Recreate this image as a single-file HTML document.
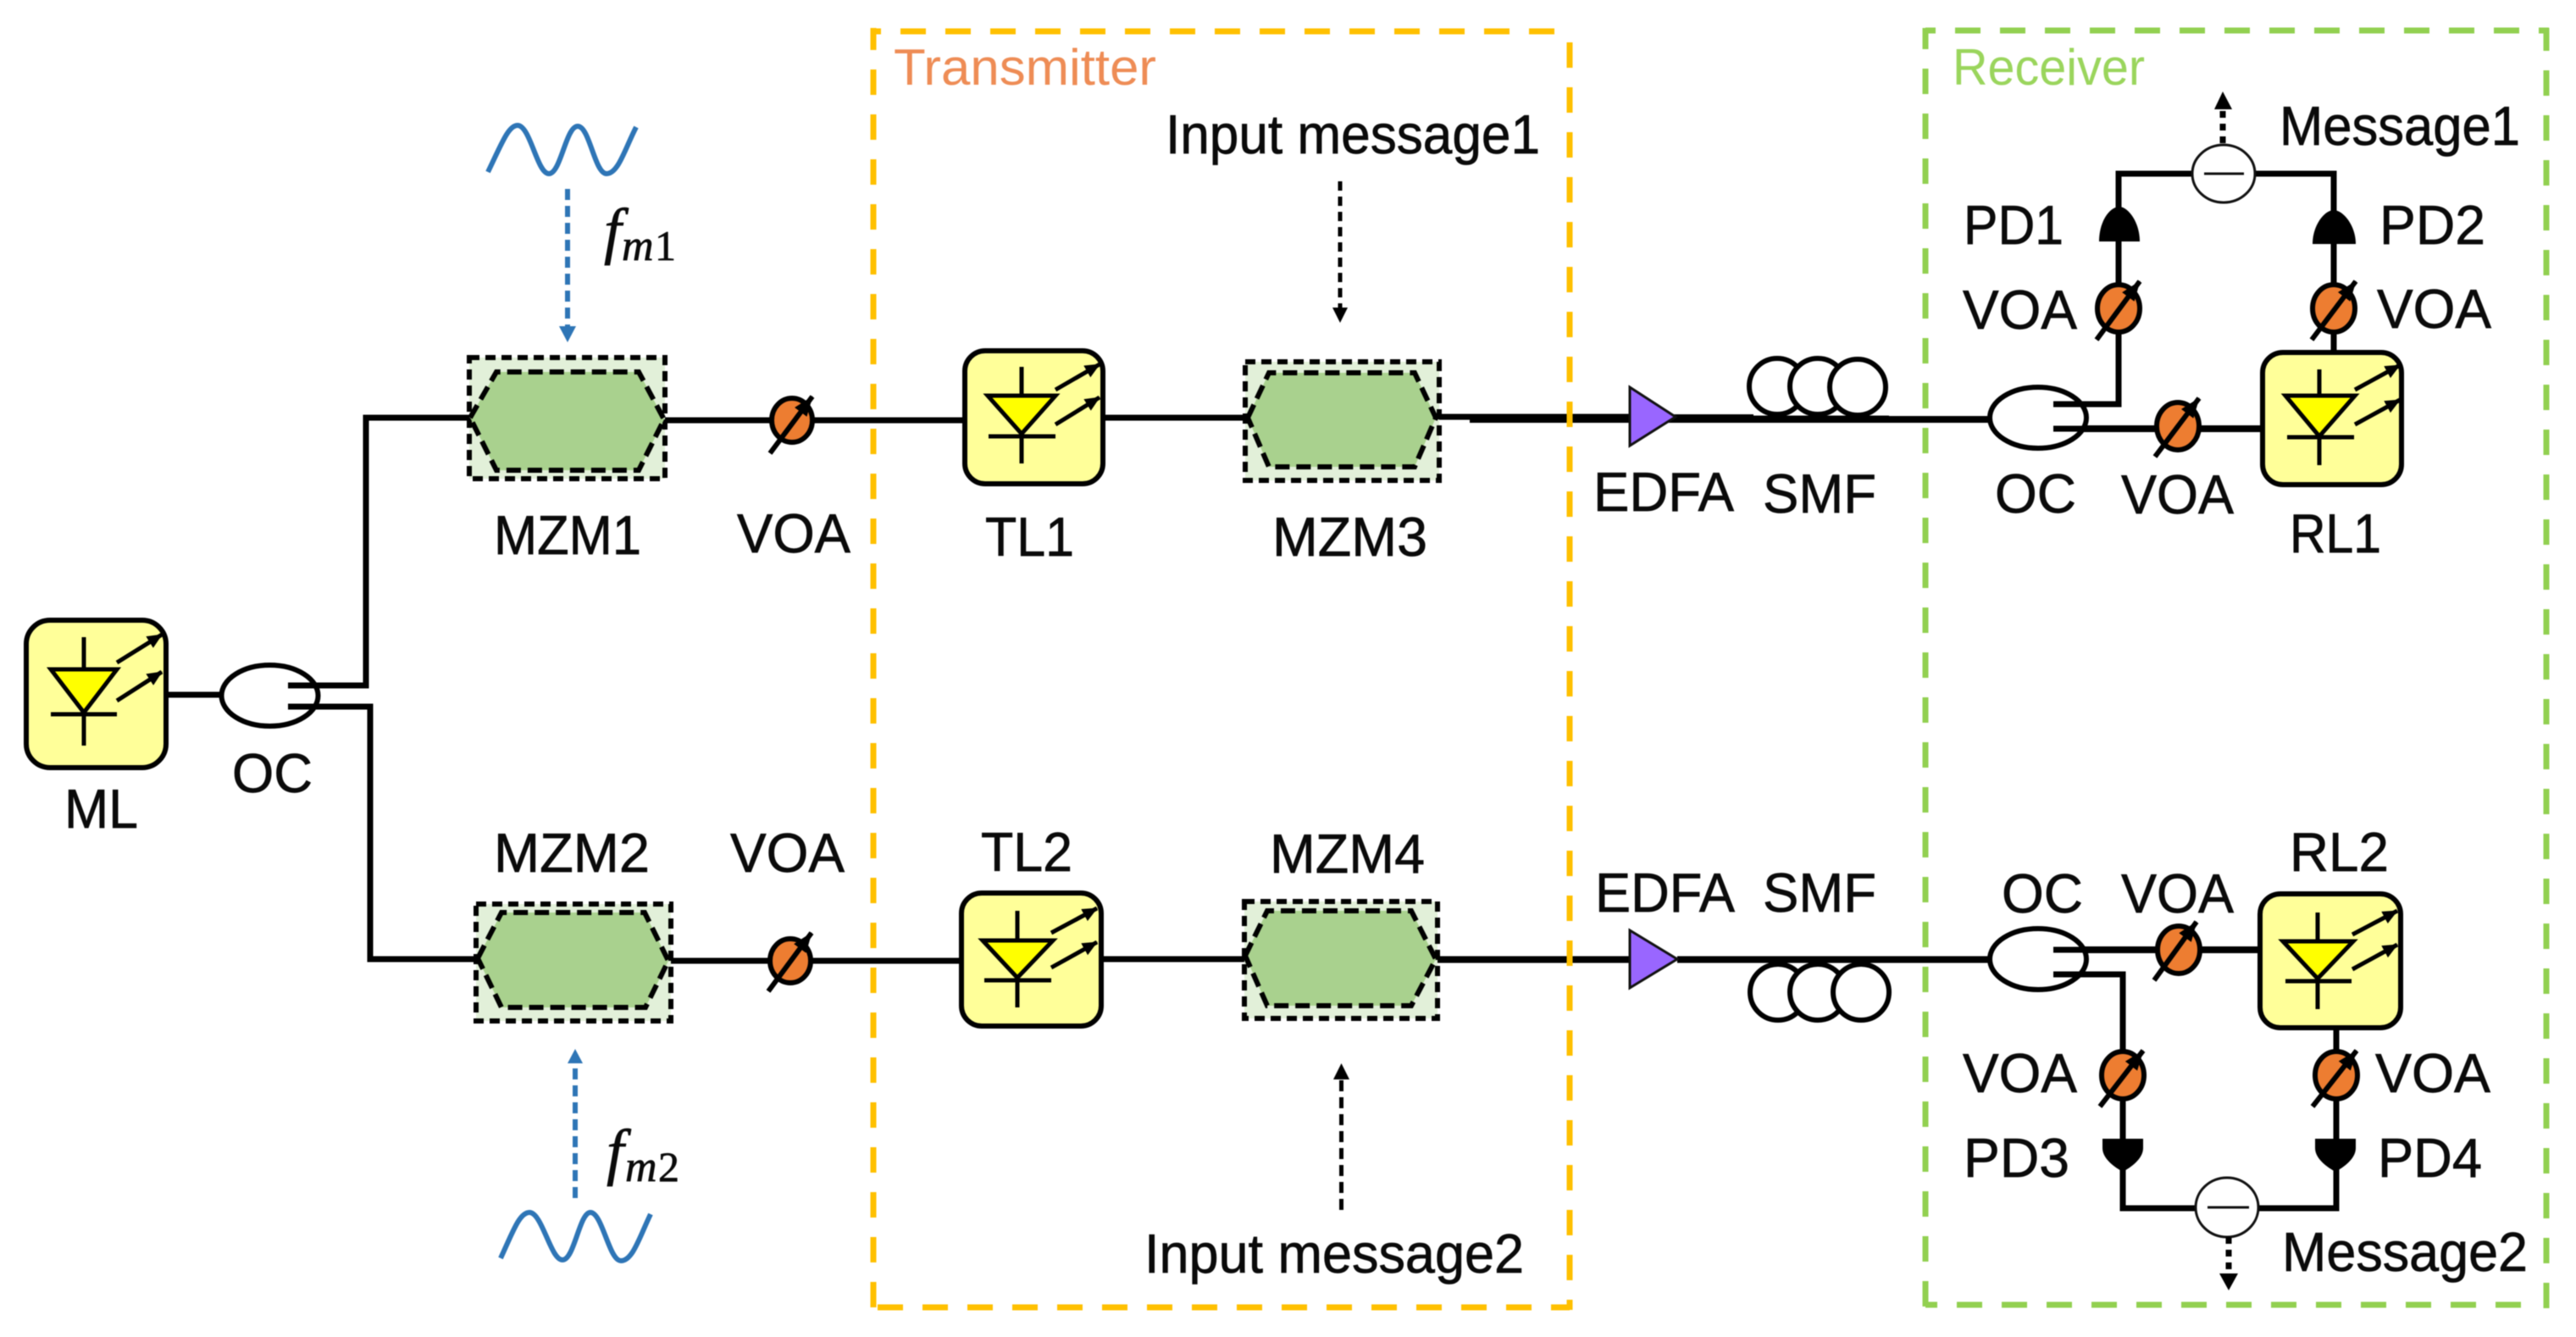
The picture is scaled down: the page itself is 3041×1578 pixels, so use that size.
<!DOCTYPE html>
<html><head><meta charset="utf-8"><style>
html,body{margin:0;padding:0;background:#fff}
svg{display:block;filter:blur(.6px)}
text{font-family:"Liberation Sans",sans-serif;font-size:65px;fill:#0a0a0a;stroke:#0a0a0a;stroke-width:.7px}
.l{fill:none;stroke:#000;stroke-width:7}
.box{fill:#ffff99;stroke:#000;stroke-width:6}
.tri{fill:#ffff00;stroke:#000;stroke-width:5}
.d{fill:none;stroke:#000;stroke-width:5}
.ar{fill:none;stroke:#000;stroke-width:5;marker-end:url(#a)}
.voa{fill:#ed7d31;stroke:#000;stroke-width:6}
.sl{fill:none;stroke:#000;stroke-width:6;marker-end:url(#b)}
.o{fill:#e2f0d9;stroke:#000;stroke-width:6;stroke-dasharray:12 7}
.h{fill:#a9d18e;stroke:#000;stroke-width:6;stroke-dasharray:17 8}
.w{fill:none;stroke:#2e75b6;stroke-width:6}
.y{fill:none;stroke:#ffc000;stroke-width:7;stroke-dasharray:30 23}
.g{fill:none;stroke:#92d050;stroke-width:7;stroke-dasharray:30 23}
.c{fill:#fff;stroke:#000;stroke-width:6}
.oc{fill:#fff;stroke:#000;stroke-width:6}
.ed{fill:#9966ff;stroke:#111;stroke-width:3}
.m{font-family:"Liberation Serif",serif;font-style:italic}
</style></head><body>
<svg width="3041" height="1578" viewBox="0 0 3041 1578" xmlns="http://www.w3.org/2000/svg">
<defs>
<marker id="a" markerUnits="userSpaceOnUse" viewBox="0 0 18 16" refX="17" refY="8" markerWidth="18" markerHeight="16" orient="auto"><path d="M0 0L18 8L0 16z"/></marker>
<marker id="b" markerUnits="userSpaceOnUse" viewBox="0 0 24 18" refX="23" refY="9" markerWidth="24" markerHeight="18" orient="auto"><path d="M0 0L24 9L0 18z"/></marker>
</defs>
<rect width="3041" height="1578" fill="#fff"/>

<!-- main lines -->
<path class="l" d="M196 820H261"/>
<path class="l" d="M340 809H432V493H554"/>
<path class="l" d="M340 834H437V1132H562"/>
<path class="l" d="M785 496H1139"/>
<path class="l" d="M1302 493H1470"/>
<path class="l" d="M1699 492H1923"/>
<path class="l" style="stroke-width:10" d="M1735 494H2070"/>
<path class="l" style="stroke-width:8" d="M2070 495H2348"/>
<path class="l" d="M792 1134H1135"/>
<path class="l" d="M1300 1132H1469"/>
<path class="l" style="stroke-width:8" d="M1697 1132.500H1924M1980 1132.500H2348"/>
<path class="l" d="M2424 477H2501V205H2755V416"/>
<path class="l" style="stroke-width:8" d="M2424 506H2671"/>
<path class="l" style="stroke-width:8" d="M2424 1121H2668"/>
<path class="l" d="M2424 1150H2506V1426H2758V1213"/>

<!-- ML -->
<rect class="box" x="31" y="732" width="165" height="174" rx="28"/>
<path class="d" d="M99 752V880M60 843H138"/>
<polygon class="tri" points="60,790 138,790 99,841"/>
<path class="ar" d="M138 782L191 749"/><path class="ar" d="M138 827L191 793"/>
<ellipse class="oc" cx="318.500" cy="821" rx="57" ry="36"/>
<path class="l" d="M340 809H380M340 834H380"/>

<!-- TL1 -->
<rect class="box" x="1139" y="414" width="163" height="157" rx="24"/>
<path class="d" d="M1206 433V547M1167 515H1246"/>
<polygon class="tri" points="1166,467 1246,467 1206,512"/>
<path class="ar" d="M1246 460L1298 430"/><path class="ar" d="M1246 501L1298 469"/>

<!-- TL2 -->
<rect class="box" x="1135" y="1054" width="165" height="157" rx="24"/>
<path class="d" d="M1201 1075V1189M1162 1157H1241"/>
<polygon class="tri" points="1160,1110 1243,1110 1201,1154"/>
<path class="ar" d="M1241 1101L1295 1072"/><path class="ar" d="M1241 1142L1295 1112"/>

<!-- RL1 -->
<rect class="box" x="2671" y="416" width="164" height="156" rx="24"/>
<path class="d" d="M2738 436V549M2700 516H2779"/>
<polygon class="tri" points="2698,467 2780,467 2738,515"/>
<path class="ar" d="M2780 460L2833 431"/><path class="ar" d="M2780 501L2833 472"/>

<!-- RL2 -->
<rect class="box" x="2668" y="1055" width="166" height="158" rx="24"/>
<path class="d" d="M2736 1077V1191M2698 1158H2776"/>
<polygon class="tri" points="2695,1111 2778,1111 2736,1155"/>
<path class="ar" d="M2777 1103L2830 1075"/><path class="ar" d="M2777 1144L2830 1115"/>

<!-- MZMs -->
<rect class="o" x="554" y="422" width="231" height="143"/>
<polygon class="h" points="555,493 586,439 754,439 784,495 754,555 586,555"/>
<rect class="o" x="1470" y="427" width="229" height="140"/>
<polygon class="h" points="1473,493 1498,440 1670,440 1695,493 1670,551 1498,551"/>
<rect class="o" x="562" y="1067" width="230" height="138"/>
<polygon class="h" points="564,1131 592,1077 761,1077 789,1134 762,1189 592,1189"/>
<rect class="o" x="1469" y="1064" width="228" height="138"/>
<polygon class="h" points="1470,1128 1496,1075 1666,1075 1695,1132 1666,1187 1496,1187"/>

<!-- VOAs -->
<ellipse class="voa" cx="935" cy="496" rx="24" ry="26"/><path class="sl" d="M909 535L959 468"/>
<ellipse class="voa" cx="933" cy="1134" rx="24" ry="26"/><path class="sl" d="M907 1170L958 1101"/>
<ellipse class="voa" cx="2501" cy="364" rx="25" ry="28"/><path class="sl" d="M2475 401L2526 332"/>
<ellipse class="voa" cx="2755" cy="364" rx="25" ry="28"/><path class="sl" d="M2729 401L2781 332"/>
<ellipse class="voa" cx="2571" cy="503" rx="25" ry="28"/><path class="sl" d="M2544 539L2596 470"/>
<ellipse class="voa" cx="2572" cy="1121" rx="25" ry="28"/><path class="sl" d="M2543 1157L2593 1088"/>
<ellipse class="voa" cx="2506" cy="1269" rx="25" ry="28"/><path class="sl" d="M2479 1306L2530 1240"/>
<ellipse class="voa" cx="2758" cy="1269" rx="25" ry="28"/><path class="sl" d="M2730 1306L2782 1240"/>

<!-- PDs -->
<path d="M2478 285H2526C2526 262 2512 244 2502 244C2490 244 2478 262 2478 285Z"/>
<path d="M2730 288H2781C2781 266 2766 248 2755 248C2744 248 2730 266 2730 288Z"/>
<path d="M2482 1344H2530V1355C2530 1368 2515 1378 2506 1383C2497 1378 2482 1368 2482 1355Z"/>
<path d="M2733 1344H2781V1355C2781 1368 2766 1378 2757 1383C2748 1378 2733 1368 2733 1355Z"/>
<path class="l" d="M2501 285V336M2755 288V336M2501 392V477M2755 392V416M2506 1297V1344M2758 1213V1241M2758 1297V1344M2506 1150V1241"/>

<!-- subtractors -->
<ellipse cx="2625" cy="205" rx="37" ry="34" fill="#fff" stroke="#111" stroke-width="3"/>
<path d="M2602 205H2649" stroke="#111" stroke-width="3" fill="none"/>
<ellipse cx="2629" cy="1425" rx="37" ry="35" fill="#fff" stroke="#111" stroke-width="3"/>
<path d="M2606 1425H2655" stroke="#111" stroke-width="3" fill="none"/>
<path d="M2624 169V128" stroke="#000" stroke-width="7" stroke-dasharray="8 7" fill="none"/>
<polygon points="2624,108 2614,129 2635,129"/>
<path d="M2631 1460V1503" stroke="#000" stroke-width="7" stroke-dasharray="8 7" fill="none"/>
<polygon points="2631,1523 2620,1503 2642,1503"/>

<!-- OCs on the right -->
<ellipse class="oc" cx="2406" cy="493" rx="57" ry="36"/>
<path class="l" style="stroke-width:7" d="M2424 477H2470M2424 506H2470"/>
<ellipse class="oc" cx="2406" cy="1132" rx="57" ry="36"/>
<path class="l" style="stroke-width:7" d="M2424 1121H2470M2424 1150H2470"/>

<!-- EDFA and coils -->
<polygon class="ed" points="1924,457 1978,492 1924,526"/>
<polygon class="ed" points="1924,1098 1980,1132 1924,1166"/>
<circle class="c" cx="2098" cy="456" r="33"/><circle class="c" cx="2146" cy="456" r="33"/><circle class="c" cx="2193" cy="457" r="33"/>
<circle class="c" cx="2099" cy="1171" r="33"/><circle class="c" cx="2146" cy="1171" r="33"/><circle class="c" cx="2197" cy="1171" r="33"/>
<path class="l" style="stroke-width:8" d="M2060 494.500H2230M2060 1132.500H2235"/>

<!-- sine waves & signals -->
<path class="w" d="M576 203C592 170 600 148 611 148C626 148 634 205 648 205C662 205 668 149 682 149C696 149 702 205 716 205C730 205 738 175 751 150"/>
<path class="w" d="M591 1485C605 1455 613 1431 625 1431C640 1431 650 1487 664 1487C678 1487 684 1431 697 1431C711 1431 719 1488 733 1488C747 1488 755 1460 768 1433"/>
<path d="M670 223V385" stroke="#2e75b6" stroke-width="6" stroke-dasharray="13 7" fill="none"/>
<polygon points="670,404 660,385 680,385" fill="#2e75b6"/>
<path d="M679 1414V1255" stroke="#2e75b6" stroke-width="6" stroke-dasharray="13 7" fill="none"/>
<polygon points="679,1238 670,1255 688,1255" fill="#2e75b6"/>
<path d="M1582 214V364" stroke="#000" stroke-width="5" stroke-dasharray="11 7" fill="none"/>
<polygon points="1582,381 1573,363 1591,363"/>
<path d="M1583.500 1428V1274" stroke="#000" stroke-width="5" stroke-dasharray="13 7" fill="none"/>
<polygon points="1583.500,1255 1574,1274 1593,1274"/>

<!-- dashed group boxes -->
<path class="y" d="M1031 1543V33"/>
<path class="y" d="M1036 1543H1853"/>
<path class="y" style="stroke-dashoffset:18" d="M1028 37H1840"/>
<path class="y" d="M1853 50V1546"/>
<path class="g" d="M2273 1542V33"/>
<path class="g" style="stroke-dashoffset:16" d="M2273 1540H2980"/>
<path class="g" style="stroke-dashoffset:18" d="M2273 36H3009"/>
<path class="g" d="M3006 1544V33"/>

<!-- labels -->
<text x="1055" y="100" textLength="310" lengthAdjust="spacingAndGlyphs" style="fill:#ee8c55;stroke:none;font-size:60px">Transmitter</text>
<text x="2305" y="100" textLength="227" lengthAdjust="spacingAndGlyphs" style="fill:#9ad55c;stroke:none;font-size:60px">Receiver</text>
<text x="76" y="977" textLength="87" lengthAdjust="spacingAndGlyphs">ML</text>
<text x="274" y="935" textLength="95" lengthAdjust="spacingAndGlyphs">OC</text>
<text x="583" y="654" textLength="174" lengthAdjust="spacingAndGlyphs">MZM1</text>
<text x="870" y="652" textLength="134" lengthAdjust="spacingAndGlyphs">VOA</text>
<text x="1163" y="656" textLength="105" lengthAdjust="spacingAndGlyphs">TL1</text>
<text x="1502" y="656" textLength="183" lengthAdjust="spacingAndGlyphs">MZM3</text>
<text x="1881" y="603" textLength="166" lengthAdjust="spacingAndGlyphs">EDFA</text>
<text x="2081" y="605" textLength="134" lengthAdjust="spacingAndGlyphs">SMF</text>
<text x="2355" y="605" textLength="96" lengthAdjust="spacingAndGlyphs">OC</text>
<text x="2504" y="606" textLength="133" lengthAdjust="spacingAndGlyphs">VOA</text>
<text x="2703" y="652" textLength="108" lengthAdjust="spacingAndGlyphs">RL1</text>
<text x="2318" y="288" textLength="118" lengthAdjust="spacingAndGlyphs">PD1</text>
<text x="2809" y="288" textLength="125" lengthAdjust="spacingAndGlyphs">PD2</text>
<text x="2317" y="388" textLength="135" lengthAdjust="spacingAndGlyphs">VOA</text>
<text x="2806" y="387" textLength="135" lengthAdjust="spacingAndGlyphs">VOA</text>
<text x="2691" y="171" textLength="284" lengthAdjust="spacingAndGlyphs">Message1</text>
<text x="1376" y="181" textLength="442" lengthAdjust="spacingAndGlyphs">Input message1</text>
<text x="583" y="1029" textLength="184" lengthAdjust="spacingAndGlyphs">MZM2</text>
<text x="862" y="1029" textLength="135" lengthAdjust="spacingAndGlyphs">VOA</text>
<text x="1158" y="1028" textLength="108" lengthAdjust="spacingAndGlyphs">TL2</text>
<text x="1499" y="1030" textLength="183" lengthAdjust="spacingAndGlyphs">MZM4</text>
<text x="1883" y="1076" textLength="165" lengthAdjust="spacingAndGlyphs">EDFA</text>
<text x="2081" y="1076" textLength="134" lengthAdjust="spacingAndGlyphs">SMF</text>
<text x="2363" y="1077" textLength="96" lengthAdjust="spacingAndGlyphs">OC</text>
<text x="2504" y="1077" textLength="133" lengthAdjust="spacingAndGlyphs">VOA</text>
<text x="2703" y="1028" textLength="117" lengthAdjust="spacingAndGlyphs">RL2</text>
<text x="2317" y="1289" textLength="135" lengthAdjust="spacingAndGlyphs">VOA</text>
<text x="2804" y="1289" textLength="136" lengthAdjust="spacingAndGlyphs">VOA</text>
<text x="2318" y="1389" textLength="125" lengthAdjust="spacingAndGlyphs">PD3</text>
<text x="2807" y="1389" textLength="123" lengthAdjust="spacingAndGlyphs">PD4</text>
<text x="2694" y="1500" textLength="290" lengthAdjust="spacingAndGlyphs">Message2</text>
<text x="1351" y="1502" textLength="448" lengthAdjust="spacingAndGlyphs">Input message2</text>
<text class="m" x="713" y="297" style="font-size:74px">f</text>
<text class="m" x="734" y="307" style="font-size:52px">m</text>
<text x="773" y="307" style="font-family:'Liberation Serif',serif;font-size:50px">1</text>
<text class="m" x="716" y="1384" style="font-size:74px">f</text>
<text class="m" x="738" y="1394" style="font-size:52px">m</text>
<text x="777" y="1394" style="font-family:'Liberation Serif',serif;font-size:50px">2</text>
</svg>
</body></html>
